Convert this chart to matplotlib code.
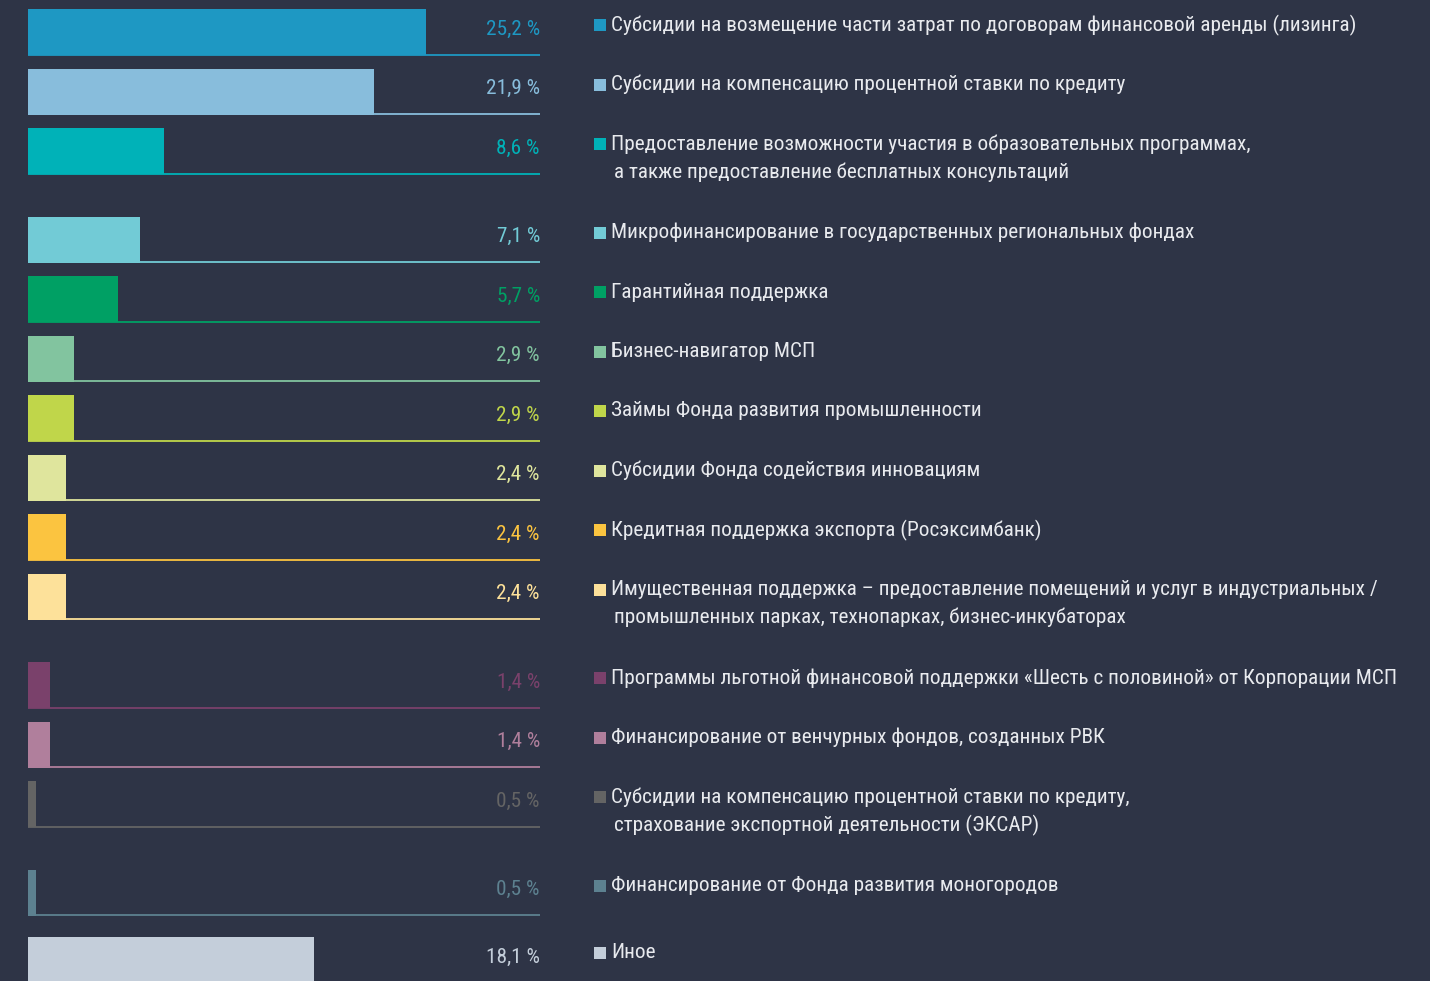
import matplotlib
matplotlib.use("Agg")
import matplotlib.pyplot as plt
from matplotlib import font_manager
from matplotlib.patches import Rectangle
from matplotlib.transforms import blended_transform_factory

# Доли мер поддержки, %
labels = [
    "Субсидии на возмещение части затрат по договорам финансовой аренды (лизинга)",
    "Субсидии на компенсацию процентной ставки по кредиту",
    "Предоставление возможности участия в образовательных программах,\n"
    "а также предоставление бесплатных консультаций",
    "Микрофинансирование в государственных региональных фондах",
    "Гарантийная поддержка",
    "Бизнес-навигатор МСП",
    "Займы Фонда развития промышленности",
    "Субсидии Фонда содействия инновациям",
    "Кредитная поддержка экспорта (Росэксимбанк)",
    "Имущественная поддержка – предоставление помещений и услуг в индустриальных /\n"
    "промышленных парках, технопарках, бизнес-инкубаторах",
    "Программы льготной финансовой поддержки «Шесть с половиной» от Корпорации МСП",
    "Финансирование от венчурных фондов, созданных РВК",
    "Субсидии на компенсацию процентной ставки по кредиту,\n"
    "страхование экспортной деятельности (ЭКСАР)",
    "Финансирование от Фонда развития моногородов",
    "Иное",
]
values = [25.2, 21.9, 8.6, 7.1, 5.7, 2.9, 2.9, 2.4, 2.4, 2.4, 1.4, 1.4, 0.5, 0.5, 18.1]
colors = [
    "#1e98c3", "#88bddc", "#00b2b8", "#72cbd6", "#00a064",
    "#82c49f", "#c0d64a", "#dfe59d", "#fbc440", "#fde19a",
    "#7a416b", "#b07f9c", "#646464", "#5d8190", "#c4ceda",
]

BG = "#2e3446"
TEXT = "#e8eaee"

# узкий шрифт, если есть; иначе Roboto помельче
_fonts = font_manager.fontManager.ttflist
_names = {f.name for f in _fonts}
FONT, STRETCH, FS = ["Roboto", "DejaVu Sans"], "normal", 13.5
for cand in ["Roboto Condensed", "Liberation Sans Narrow", "Open Sans Condensed",
             "Noto Sans Condensed", "DejaVu Sans Condensed"]:
    if cand in _names:
        FONT, FS = [cand, "DejaVu Sans"], 15.3
        break
else:
    for f in _fonts:
        if f.name in ("Roboto", "Noto Sans", "Open Sans", "DejaVu Sans") and f.stretch in ("condensed", "semi-condensed", "extra-condensed", 62.5, 75, 87.5):
            FONT, STRETCH, FS = [f.name, "DejaVu Sans"], f.stretch, 15.3
            break

W, H = 1430, 981
PX_PER_PCT = 15.8         # ширина 1 % в пикселях
X0, X1 = 28, 540          # начало полос и конец подчёркивающих линий
BAR_H = 46
STEP = 59.5               # шаг между строками
EXTRA_LINE = 29           # добавка на каждую вторую строку подписи

fig = plt.figure(figsize=(W / 100, H / 100), dpi=100, facecolor=BG)
ax = fig.add_axes([X0 / W, 0, (X1 - X0) / W, 1])
ax.set_facecolor(BG)
ax.set_xlim(0, (X1 - X0) / PX_PER_PCT)
ax.set_ylim(H, 0)
ax.axis("off")

trans = blended_transform_factory(ax.transAxes, ax.transData)
x_sq = (594 - X0) / (X1 - X0)
x_txt = (611 - X0) / (X1 - X0)
sq_w = 12 / (X1 - X0)
txt_kw = dict(family=FONT, fontstretch=STRETCH, fontsize=FS, clip_on=False)

top = 9.0
for i, (lab, val, col) in enumerate(zip(labels, values, colors)):
    if i == len(values) - 1:
        top += 8  # «Иное» стоит чуть отдельно
    bottom = top + BAR_H
    ax.barh(top + BAR_H / 2, val, height=BAR_H, color=col, left=0, linewidth=0)
    # тонкая линия под строкой до правого края
    ax.plot([0, 1], [bottom - 0.5, bottom - 0.5], transform=trans,
            color=col, lw=1.3, solid_capstyle="butt", clip_on=False)

    ax.text(1.0, top + 20, f"{val:.1f} %".replace(".", ","), transform=trans,
            ha="right", va="center", color=col, **txt_kw)

    ax.add_patch(Rectangle((x_sq, top + 10), sq_w, 12, transform=trans,
                           color=col, lw=0, clip_on=False))
    lines = lab.split("\n")
    for k, ln in enumerate(lines):
        ax.text(x_txt + (3 / (X1 - X0) if k else 0), top + 16 + k * 28, ln,
                transform=trans, ha="left", va="center", color=TEXT, **txt_kw)

    top += STEP + EXTRA_LINE * (len(lines) - 1)

fig.savefig("out.png", dpi=100, facecolor=BG)
